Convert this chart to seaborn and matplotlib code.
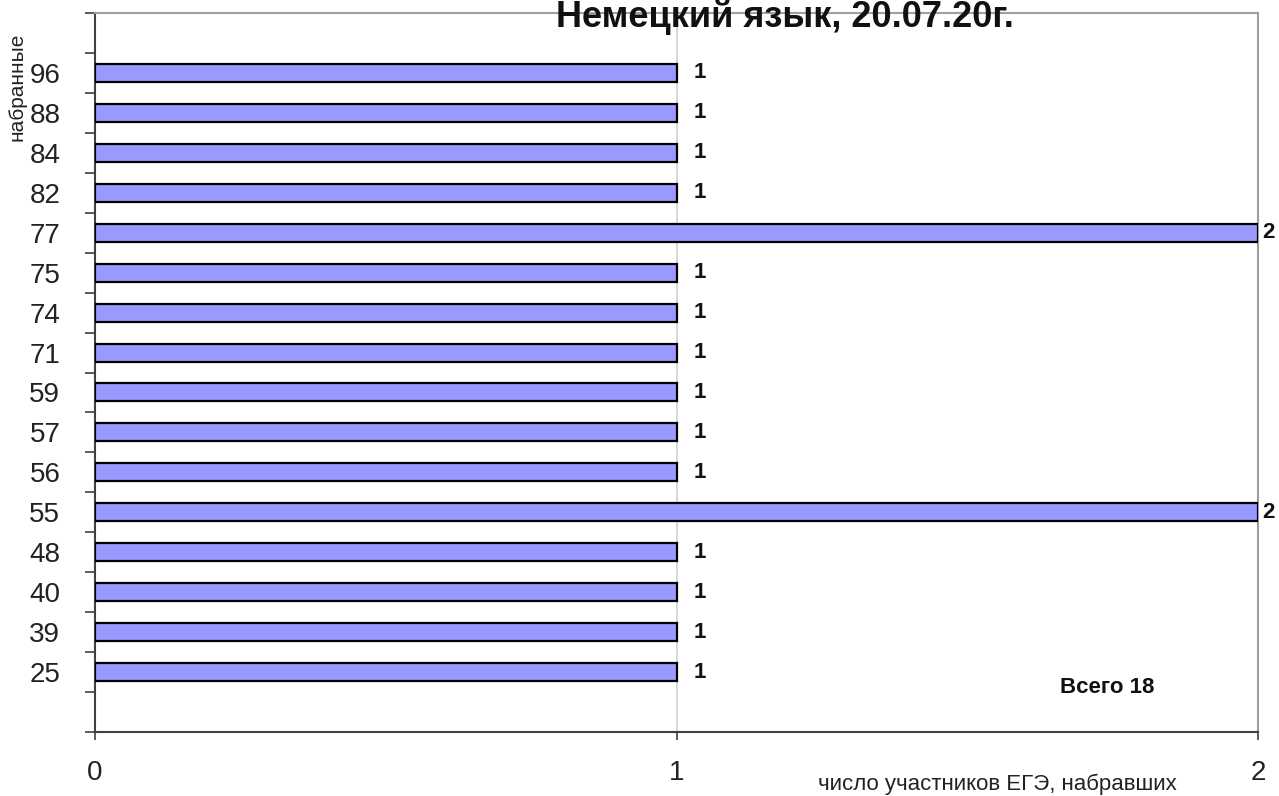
import matplotlib
matplotlib.use("Agg")
import matplotlib.pyplot as plt
import seaborn as sns
import pandas as pd
import numpy as np
from matplotlib.ticker import FixedLocator

scores = ["96", "88", "84", "82", "77", "75", "74", "71", "59", "57", "56", "55", "48", "40", "39", "25"]
counts = [1, 1, 1, 1, 2, 1, 1, 1, 1, 1, 1, 2, 1, 1, 1, 1]
x_ticks = [0, 1, 2]
title = "Немецкий язык, 20.07.20г."
total_label = "Всего 18"
x_label = "число участников ЕГЭ, набравших"
y_label = "набранные"

sns.set_theme(style="white")
plt.rcParams['font.family'] = ['Liberation Sans', 'DejaVu Sans']

df = pd.DataFrame({"score": scores, "count": counts})

fig = plt.figure(figsize=(12.79, 7.96), dpi=100)
ax = fig.add_axes([95/1279, 1 - 732/796, (1258-95)/1279, (732-13)/796])

sns.barplot(data=df, x="count", y="score", order=scores, orient="h",
            color="#9999FF", saturation=1, width=0.45,
            edgecolor="black", linewidth=1.6, ax=ax, zorder=3)

n = len(scores)
ax.set_ylim(n + 0.5, -1.5)
ax.set_xlim(0, 2)

# grid line at 1
ax.axvline(1, color="#d0d0d0", lw=1.2, zorder=1)

for s in ["top", "right"]:
    ax.spines[s].set_color("#a0a0a0")
    ax.spines[s].set_linewidth(1.5)
for s in ["left", "bottom"]:
    ax.spines[s].set_color("#404040")
    ax.spines[s].set_linewidth(1.5)

ax.set_yticks(np.arange(n))
ax.set_yticklabels(scores)
ax.yaxis.set_minor_locator(FixedLocator(np.arange(-1.5, n + 0.6, 1)))
ax.tick_params(axis="y", which="major", length=0, pad=25, labelsize=20, labelcolor="#222222")
ax.tick_params(axis="y", which="minor", length=7, width=1.2, color="#404040", left=True)
ax.set_xticks(x_ticks)
ax.set_xticklabels([str(v) for v in x_ticks])
ax.tick_params(axis="x", which="major", length=6, width=1.2, color="#404040", bottom=True,
               pad=14, labelsize=20, labelcolor="#222222")

ax.set_xlabel("")
ax.set_ylabel("")

vmax = max(counts)
for i, v in enumerate(counts):
    off = 3 if v == vmax else 12
    ax.annotate(str(v), xy=(v, i), xytext=(off, 0), textcoords="offset points",
                ha="left", va="center", fontsize=16, fontweight="bold", color="#111111")

ax.text(1.74, 15.38, total_label, ha="center", va="center", fontsize=16, fontweight="bold",
        color="#111111")

fig.text(785/1279, 1 - 27/796, title, ha="center", va="baseline", fontsize=26,
         fontweight="bold", color="#111111")
fig.text(1177/1279, 1 - 790/796, x_label, ha="right", va="baseline", fontsize=16,
         color="#222222")
fig.text(27/1279, 1 - 33/796, y_label, ha="right", va="top", rotation=90, fontsize=15,
         color="#222222")

fig.savefig("out.png", dpi=100)
